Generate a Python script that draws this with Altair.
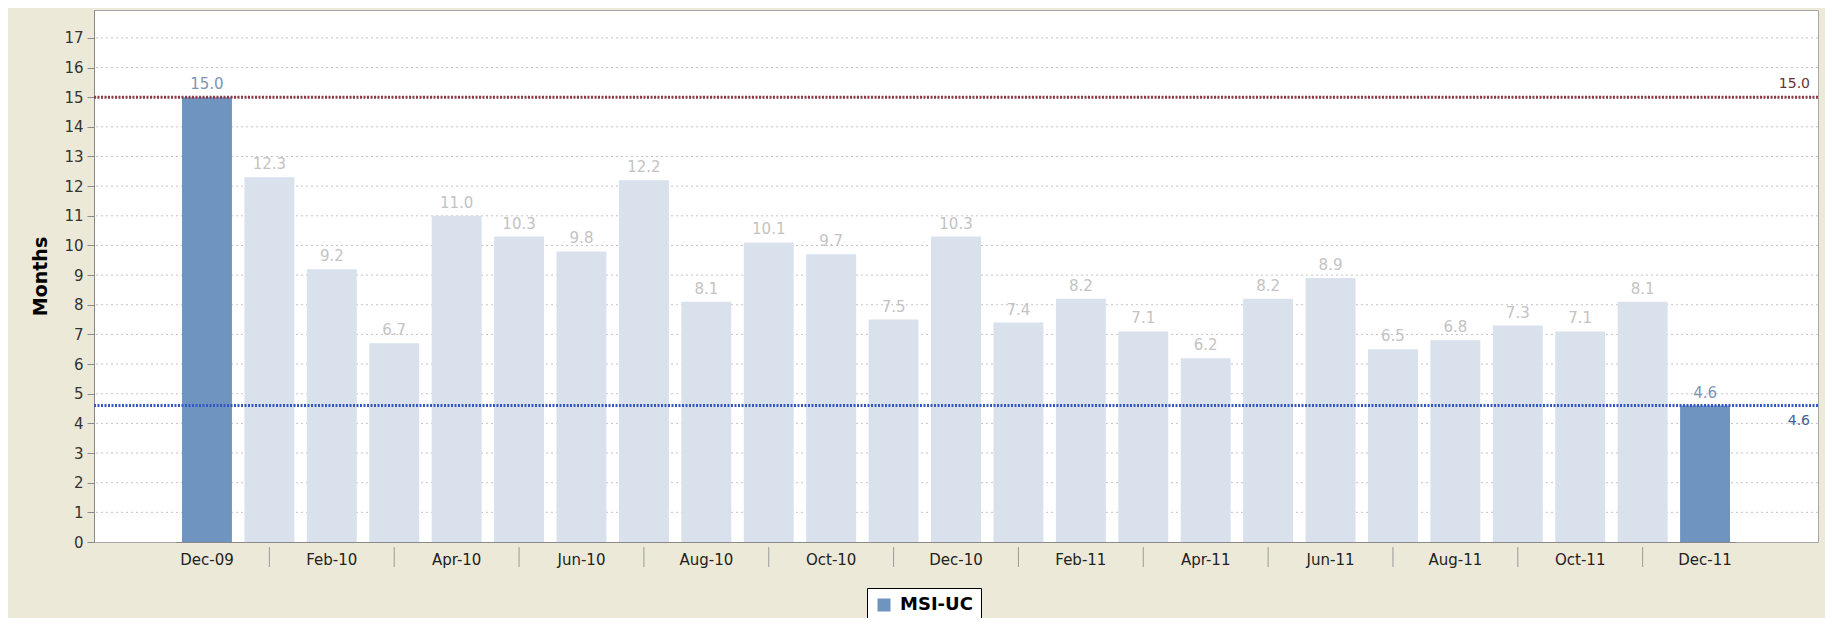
import altair as alt
import pandas as pd

months = ["Dec-09", "Jan-10", "Feb-10", "Mar-10", "Apr-10", "May-10", "Jun-10",
          "Jul-10", "Aug-10", "Sep-10", "Oct-10", "Nov-10", "Dec-10", "Jan-11",
          "Feb-11", "Mar-11", "Apr-11", "May-11", "Jun-11", "Jul-11", "Aug-11",
          "Sep-11", "Oct-11", "Nov-11", "Dec-11"]
values = [15.0, 12.3, 9.2, 6.7, 11.0, 10.3, 9.8, 12.2, 8.1, 10.1, 9.7, 7.5, 10.3,
          7.4, 8.2, 7.1, 6.2, 8.2, 8.9, 6.5, 6.8, 7.3, 7.1, 8.1, 4.6]
highlight_months = ["Dec-09", "Dec-11"]
label_months = months[::2]
separator_months = months[1::2]
ref_upper = [15.0]
ref_lower = [4.6]
y_ticks = list(range(0, 18))
series_name = "MSI-UC"

W, H = 1724, 532

df = pd.DataFrame({"month": months, "value": values})
df["group"] = [series_name if m in highlight_months else "Other" for m in months]
sep_df = pd.DataFrame({"month": separator_months})
grid_df = pd.DataFrame({"value": y_ticks[1:]})
up_df = pd.DataFrame({"value": ref_upper})
lo_df = pd.DataFrame({"value": ref_lower})

x_main = alt.X(
    "month:N", sort=months,
    scale=alt.Scale(paddingInner=0.2, paddingOuter=0.1, range=[81.76, 1642.26]),
    axis=alt.Axis(values=label_months, title=None, ticks=False, tickSize=0,
                  labelAngle=0, labelFont="DejaVu Sans", labelFontSize=15,
                  labelColor="#222222", labelPadding=10, labelBaseline="top",
                  labelOverlap=False, domainColor="#8a8a8a", grid=False),
)
y_main = alt.Y(
    "value:Q",
    scale=alt.Scale(domain=[0, 17.94], nice=False, zero=True),
    axis=alt.Axis(values=y_ticks, tickCount=40, labelOverlap=False, format="d",
                  title="Months", labelFont="DejaVu Sans",
                  labelFontSize=15, labelColor="#333333", tickSize=7,
                  tickColor="#8a8a8a", domainColor="#8a8a8a", labelPadding=4,
                  grid=False,
                  titleFont="DejaVu Sans", titleFontSize=19, titleFontWeight="bold",
                  titleColor="#000000", titleAngle=270, titleBaseline="alphabetic",
                  titleAlign="center", titleX=-48, titleY=H / 2),
)
x_plain = alt.X("month:N", sort=months)
y_plain = alt.Y("value:Q")

grid = alt.Chart(grid_df).mark_rule(color="#c4c4c4", strokeWidth=1,
                                    strokeDash=[2, 3]).encode(y=y_main)

bars = alt.Chart(df).mark_bar().encode(
    x=x_main,
    y=y_plain,
    color=alt.Color(
        "group:N",
        scale=alt.Scale(domain=[series_name, "Other"], range=["#7094c0", "#d9e1ed"]),
        legend=alt.Legend(values=[series_name], orient="none", legendX=773, legendY=578,
                          title=None, symbolType="square", symbolSize=169,
                          symbolStrokeWidth=0, labelFont="DejaVu Sans",
                          labelFontWeight="bold", labelFontSize=18,
                          labelColor="#000000", labelOffset=7,
                          strokeColor="#000000", fillColor="#ffffff", padding=8),
    ),
)

labels = alt.Chart(df).mark_text(dy=-8, baseline="alphabetic", font="DejaVu Sans",
                                 fontSize=15).encode(
    x=x_plain,
    y=y_plain,
    text=alt.Text("value:Q", format=".1f"),
    color=alt.condition(alt.FieldOneOfPredicate(field="group", oneOf=[series_name]),
                        alt.value("#7a96b6"), alt.value("#c3c3c3")),
)

seps = alt.Chart(sep_df).mark_rule(color="#9a9a9a", strokeWidth=1).encode(
    x=x_plain, y=alt.value(H + 5), y2=alt.value(H + 25)
)

up_rule = alt.Chart(up_df).mark_rule(color="#8b3a4a", strokeWidth=3,
                                     strokeDash=[2, 1.5]).encode(y=y_plain)
lo_rule = alt.Chart(lo_df).mark_rule(color="#3558c0", strokeWidth=3,
                                     strokeDash=[2, 1.5]).encode(y=y_plain)
up_text = alt.Chart(up_df).mark_text(align="right", baseline="alphabetic", dy=-9,
                                     font="DejaVu Sans", fontSize=14,
                                     color="#663333").encode(
    x=alt.value(W - 8), y=y_plain, text=alt.Text("value:Q", format=".1f"))
lo_text = alt.Chart(lo_df).mark_text(align="right", baseline="top", dy=8,
                                     font="DejaVu Sans", fontSize=14,
                                     color="#3d5f99").encode(
    x=alt.value(W - 8), y=y_plain, text=alt.Text("value:Q", format=".1f"))

chart = alt.layer(grid, bars, labels, seps, up_rule, lo_rule, up_text, lo_text).properties(
    width=W, height=H,
    autosize=alt.AutoSizeParams(type="none"),
    padding={"left": 86, "top": 2, "right": 7, "bottom": 76},
    background="#ECE9D8",
).configure_view(fill="#ffffff", stroke="#a8a8a8", strokeWidth=1)

chart.save("out.html", embed_options={"renderer": "svg", "actions": False})
